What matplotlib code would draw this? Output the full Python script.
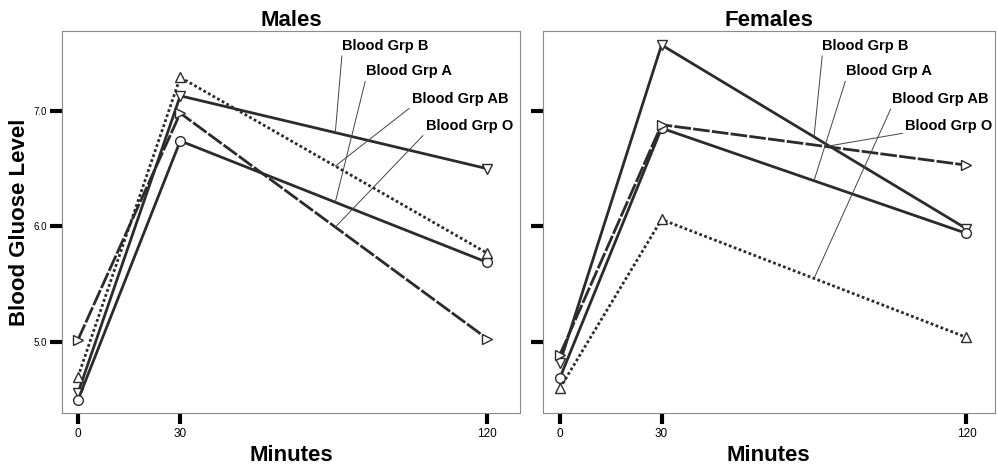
import numpy as np
import matplotlib.pyplot as plt

plt.rcParams['font.family'] = ['Liberation Sans', 'DejaVu Sans']

# ---- data ----
minutes = [0, 30, 120]
groups = ['Blood Grp B', 'Blood Grp A', 'Blood Grp AB', 'Blood Grp O']

males_b = [4.56, 7.13, 6.50]
males_a = [4.50, 6.74, 5.69]
males_ab = [4.70, 7.29, 5.77]
males_o = [5.02, 6.98, 5.03]

females_b = [4.82, 7.57, 5.98]
females_a = [4.69, 6.85, 5.94]
females_ab = [4.60, 6.06, 5.04]
females_o = [4.89, 6.88, 6.53]

y_ticks = [5.0, 6.0, 7.0]
y_tick_labels = ['5.0', '6.0', '7.0']

# ---- styles ----
LINE_COL = '#2b2b2b'
styles = {
    'Blood Grp B': dict(ls='-', marker='v'),
    'Blood Grp A': dict(ls='-', marker='o'),
    'Blood Grp AB': dict(ls=(0, (1, 0.9)), marker='^'),
    'Blood Grp O': dict(ls=(0, (6, 0.8)), marker='>'),
}
# label text anchor (minute, glucose) and where the leader touches the line
label_pos = {
    'Blood Grp B': (77.5, 7.50),
    'Blood Grp A': (84.5, 7.28),
    'Blood Grp AB': (98.0, 7.04),
    'Blood Grp O': (102.0, 6.81),
}
leader_x = {
    'Males': {'Blood Grp B': 75.5, 'Blood Grp A': 75.5, 'Blood Grp AB': 75.5, 'Blood Grp O': 75.5},
    'Females': {'Blood Grp B': 75.0, 'Blood Grp A': 75.0, 'Blood Grp AB': 75.0, 'Blood Grp O': 78.5},
}

panels = [
    ('Males', [males_b, males_a, males_ab, males_o], [0.0622, 0.123, 0.459, 0.811], (-4.7, 129.6)),
    ('Females', [females_b, females_a, females_ab, females_o], [0.5446, 0.123, 0.453, 0.811], (-5.0, 128.3)),
]

fig = plt.figure(figsize=(9.97, 4.71), dpi=100)

for title, series, rect, xlim in panels:
    ax = fig.add_axes(rect)
    for name, vals in zip(groups, series):
        st = styles[name]
        ax.plot(minutes, vals, color=LINE_COL, lw=2.0, ls=st['ls'],
                marker=st['marker'], ms=7, mfc='white', mec=LINE_COL, mew=1.0,
                zorder=3)
        lx = leader_x[title][name]
        ly = np.interp(lx, minutes, vals)
        ax.annotate(name, xy=(lx, ly), xytext=label_pos[name],
                    fontsize=10.5, fontweight='bold', ha='left', va='bottom',
                    arrowprops=dict(arrowstyle='-', color='#444444', lw=0.7,
                                    shrinkA=0, shrinkB=0, relpos=(0, 0)),
                    zorder=4)

    ax.set_xlim(*xlim)
    ax.set_ylim(4.385, 7.69)
    ax.set_xticks(minutes)
    ax.set_xticklabels([str(m) for m in minutes], fontsize=8.5)
    ax.set_yticks(y_ticks)
    if title == 'Males':
        ax.set_yticklabels(y_tick_labels, fontsize=7)
        ax.set_ylabel('Blood Gluose Level', fontsize=16, fontweight='bold', va='center')
        ax.yaxis.set_label_coords(-0.092, 0.5)
    else:
        ax.set_yticklabels([])
    ax.tick_params(axis='y', length=9, width=3, direction='out', pad=2)
    ax.tick_params(axis='x', length=8, width=3, direction='out', pad=3)
    for sp in ax.spines.values():
        sp.set_linestyle((0, (1, 1)))
        sp.set_color('#8a8a8a')
        sp.set_linewidth(0.8)
    ax.set_title(title, fontsize=16, fontweight='bold', pad=4)
    ax.set_xlabel('Minutes', fontsize=16, fontweight='bold', va='center')
    ax.xaxis.set_label_coords(0.5, -0.11)

fig.savefig('out.png', dpi=100)
